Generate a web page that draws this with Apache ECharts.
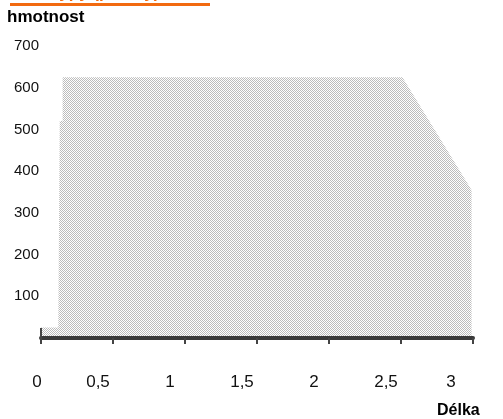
<!DOCTYPE html>
<html>
<head>
<meta charset="utf-8">
<script src="https://cdn.jsdelivr.net/npm/echarts@6/dist/echarts.min.js"></script>
<style>
html,body{margin:0;padding:0;background:#fff;}
#pic_chart{width:503px;height:419px;}
</style>
</head>
<body>
<div id="pic_chart"></div>
<script>
// outline of the shaded area: [Délka, hmotnost]
var outline = [
    [0, 25], [0.12, 25], [0.13, 520], [0.15, 520], [0.15, 625],
    [2.51, 625], [2.99, 355], [2.99, 0]
];
var xTicks = [0, 0.5, 1, 1.5, 2, 2.5, 3];
var yTicks = [100, 200, 300, 400, 500, 600, 700];

// halftone fill like the scanned original
var cv = document.createElement('canvas');
cv.width = 2; cv.height = 2;
var cx = cv.getContext('2d');
cx.fillStyle = '#ffffff'; cx.fillRect(0, 0, 2, 2);
cx.fillStyle = '#bcbcbc'; cx.fillRect(0, 0, 1, 1); cx.fillRect(1, 1, 1, 1);

var myChart = echarts.init(document.getElementById('pic_chart'));
var option = {
    animation: false,
    textStyle: {fontFamily: 'Liberation Sans, Arial, sans-serif'},
    grid: {left: 41, right: 30, top: 46, bottom: 81},
    xAxis: {
        type: 'value',
        min: 0,
        max: 3,
        interval: 0.5,
        z: 5,
        axisLine: {lineStyle: {color: '#3a3a3a', width: 4}},
        axisTick: {length: 6, lineStyle: {color: '#444', width: 2}},
        splitLine: {show: false},
        axisLabel: {
            margin: 36,
            fontSize: 17,
            color: '#111',
            formatter: function (v) {
                var s = String(v).replace('.', ',');
                if (v === 0) return '{a|' + s + '}';
                if (v === 3) return '{c|' + s + '}';
                return '{b|' + s + '}';
            },
            rich: {
                a: {fontSize: 17, color: '#111', padding: [0, 8, 0, 0]},
                b: {fontSize: 17, color: '#111', padding: [0, 30, 0, 0]},
                c: {fontSize: 17, color: '#111', padding: [0, 44, 0, 0]}
            }
        }
    },
    yAxis: {
        type: 'value',
        min: 0,
        max: 700,
        interval: 100,
        axisLine: {show: false},
        axisTick: {show: false},
        splitLine: {show: false},
        axisLabel: {
            margin: 2,
            fontSize: 15,
            color: '#111',
            formatter: function (v) { return yTicks.indexOf(v) >= 0 ? String(v) : ''; }
        }
    },
    graphic: [
        {type: 'text', left: 14, top: -15, style: {text: 'Graf typy (plochy)', fill: '#f26a10', font: 'bold 17px Liberation Sans'}},
        {type: 'rect', shape: {x: 10, y: 3, width: 200, height: 3}, style: {fill: '#f26a10'}},
        {type: 'text', left: 7, top: 9, style: {text: 'hmotnost', fill: '#000', font: 'bold 17px Liberation Sans'}},
        {type: 'rect', shape: {x: 40, y: 328, width: 2, height: 16}, style: {fill: '#444'}, z: 10},
        {type: 'text', left: 437, top: 403, style: {text: 'Délka', fill: '#000', font: 'bold 16px Liberation Sans'}}
    ],
    series: [{
        type: 'line',
        data: outline,
        symbol: 'none',
        lineStyle: {width: 0},
        areaStyle: {color: {image: cv, repeat: 'repeat'}, opacity: 1}
    }]
};
myChart.setOption(option);
</script>
</body>
</html>
